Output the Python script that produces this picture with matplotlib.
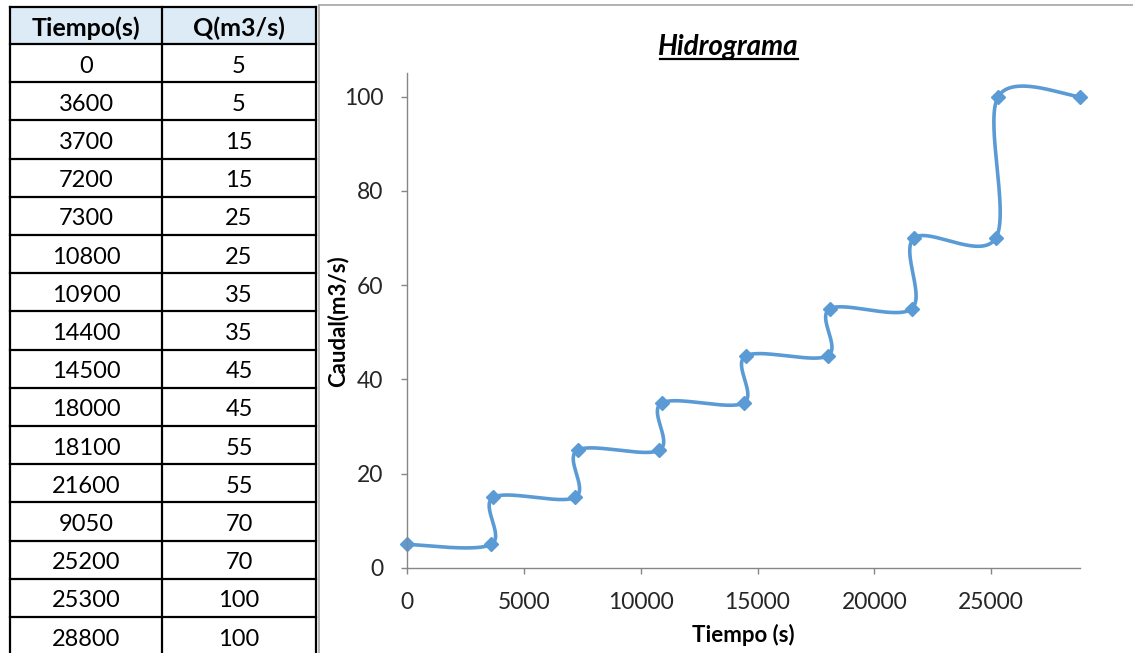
import numpy as np
import matplotlib.pyplot as plt
from matplotlib.patches import Rectangle

plt.rcParams['font.family'] = ['Lato', 'DejaVu Sans']

# table contents as typed in the sheet
table_header = ["Tiempo(s)", "Q(m3/s)"]
table_time = ["0", "3600", "3700", "7200", "7300", "10800", "10900", "14400",
              "14500", "18000", "18100", "21600", "9050", "25200", "25300", "28800"]
table_flow = ["5", "5", "15", "15", "25", "25", "35", "35",
              "45", "45", "55", "55", "70", "70", "100", "100"]

# series plotted in the hydrograph
tiempo = [0, 3600, 3700, 7200, 7300, 10800, 10900, 14400,
          14500, 18000, 18100, 21600, 21700, 25200, 25300, 28800]
caudal = [5, 5, 15, 15, 25, 25, 35, 35, 45, 45, 55, 55, 70, 70, 100, 100]

W, H = 1133, 653
fig = plt.figure(figsize=(W / 100, H / 100), dpi=100)

# ------------------------------------------------
# Spreadsheet table (pixel coordinates)
# ------------------------------------------------
bg = fig.add_axes([0, 0, 1, 1])
bg.set_xlim(0, W)
bg.set_ylim(H, 0)
bg.axis("off")

x_left, x_mid, x_right = 10, 162, 316
head_top, head_bot = 7, 44
row_h = 38.2

bg.add_patch(Rectangle((x_left, head_top), x_right - x_left, head_bot - head_top,
                       facecolor="#DDEBF7", edgecolor="none"))
for cx, txt in zip([(x_left + x_mid) / 2, (x_mid + x_right) / 2], table_header):
    bg.text(cx, (head_top + head_bot) / 2 + 3, txt, ha="center", va="center",
            fontsize=18, fontweight="bold", color="black")

n_rows = len(table_time)
lines_y = [head_top, head_bot] + [head_bot + row_h * (i + 1) for i in range(n_rows)]
for y in lines_y:
    bg.plot([x_left, x_right], [y, y], color="black", lw=1.6)
for x in [x_left, x_mid, x_right]:
    bg.plot([x, x], [head_top, H + 5], color="black", lw=1.6)

for i, (t, q) in enumerate(zip(table_time, table_flow)):
    cy = head_bot + row_h * (i + 0.5) + 3
    bg.text((x_left + x_mid) / 2, cy, t, ha="center", va="center", fontsize=17)
    bg.text((x_mid + x_right) / 2, cy, q, ha="center", va="center", fontsize=17)

# chart border
bg.plot([318.5, 318.5], [5, H + 5], color="#A6A6A6", lw=1.2)
bg.plot([318.5, W + 5], [5, 5], color="#A6A6A6", lw=1.2)

# ------------------------------------------------
# Hydrograph
# ------------------------------------------------
ax = fig.add_axes([407 / W, 1 - 568 / H, (1080 - 407) / W, (568 - 73) / H])
xmin, xmax, ymin, ymax = 0, 28800, 0, 105
ax.set_xlim(xmin, xmax)
ax.set_ylim(ymin, ymax)

# smoothed line: Catmull-Rom style Bezier computed in pixel space
sx = (1080 - 407) / (xmax - xmin)
sy = (568 - 73) / (ymax - ymin)
P = np.column_stack([np.array(tiempo) * sx, np.array(caudal) * sy])
Pext = np.vstack([P[0], P, P[-1]])
curve = []
t = np.linspace(0, 1, 60)[:, None]
for i in range(len(P) - 1):
    p0, p1, p2, p3 = Pext[i], Pext[i + 1], Pext[i + 2], Pext[i + 3]
    c1 = p1 + (p2 - p0) / 6
    c2 = p2 - (p3 - p1) / 6
    seg = ((1 - t) ** 3) * p1 + 3 * ((1 - t) ** 2) * t * c1 + 3 * (1 - t) * t ** 2 * c2 + t ** 3 * p2
    curve.append(seg)
curve = np.vstack(curve)

color = "#5B9BD5"
ax.plot(curve[:, 0] / sx, curve[:, 1] / sy, color=color, lw=2.6,
        solid_capstyle="round", clip_on=False)
ax.plot(tiempo, caudal, linestyle="none", marker="D", markersize=7, color=color,
        clip_on=False)

ax.set_xticks([0, 5000, 10000, 15000, 20000, 25000])
ax.set_yticks([0, 20, 40, 60, 80, 100])
for s in ["top", "right"]:
    ax.spines[s].set_visible(False)
for s in ["left", "bottom"]:
    ax.spines[s].set_color("#868686")
    ax.spines[s].set_linewidth(1.0)
ax.tick_params(axis="both", colors="#868686", labelcolor="#262626", labelsize=16.5,
               length=4, width=1.0, direction="out")
ax.tick_params(axis="x", pad=13)
ax.tick_params(axis="y", pad=13)

fig.text(743 / W, 1 - 635 / H, "Tiempo (s)", ha="center", va="center",
         fontsize=16, fontweight="bold")
fig.text(338 / W, 1 - 321 / H, "Caudal(m3/s)", ha="center", va="center",
         rotation=90, fontsize=16, fontweight="bold")
title = fig.text(728 / W, 1 - 47 / H, "Hidrograma", ha="center", va="center",
                 fontsize=20, fontweight="bold", fontstyle="italic")

# underline the title
fig.canvas.draw()
bb = title.get_window_extent()
y_ul = bb.y0 + 1
bg.plot([bb.x0 + 2, bb.x1], [H - y_ul, H - y_ul], color="black", lw=1.6)

fig.savefig("out.png", dpi=100)
